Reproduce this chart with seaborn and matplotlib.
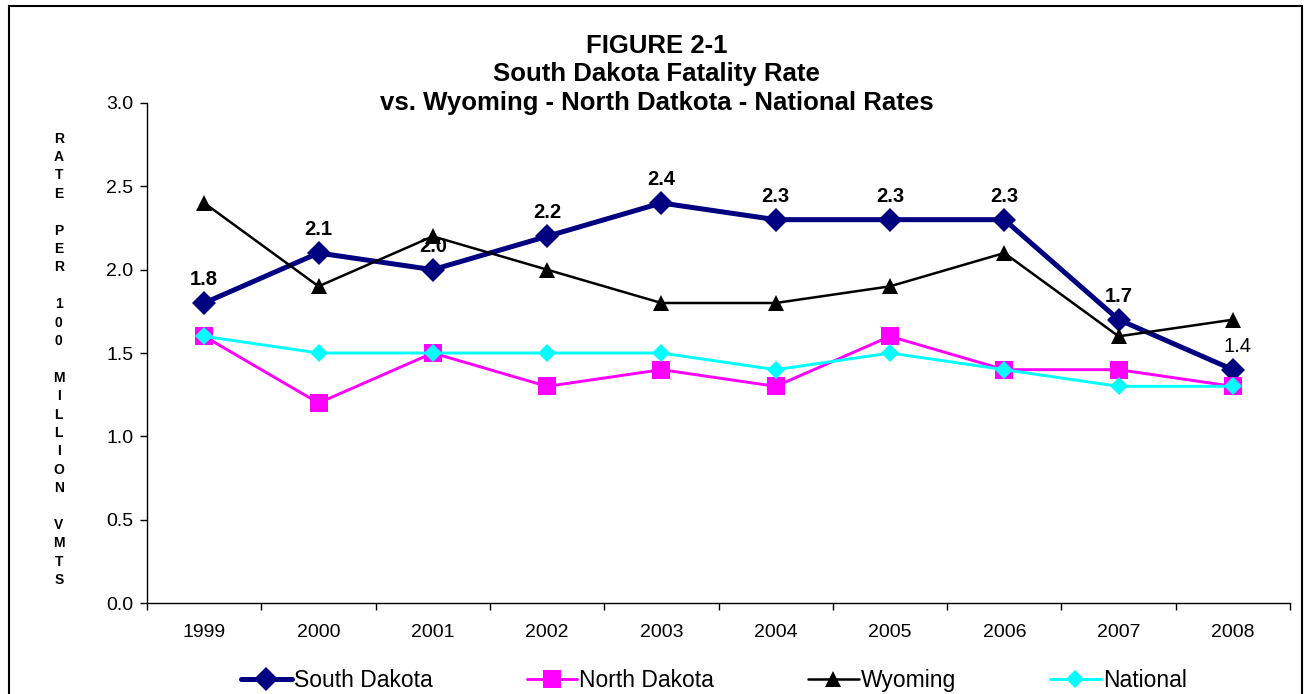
import pandas as pd
import matplotlib
matplotlib.use('Agg')
from matplotlib import pyplot as plt
from matplotlib.patches import Rectangle
from matplotlib.ticker import FixedLocator
import seaborn as sns

# --- 数据 ---
years = ['1999', '2000', '2001', '2002', '2003', '2004', '2005', '2006', '2007', '2008']
south_dakota = [1.8, 2.1, 2.0, 2.2, 2.4, 2.3, 2.3, 2.3, 1.7, 1.4]
north_dakota = [1.6, 1.2, 1.5, 1.3, 1.4, 1.3, 1.6, 1.4, 1.4, 1.3]
wyoming = [2.4, 1.9, 2.2, 2.0, 1.8, 1.8, 1.9, 2.1, 1.6, 1.7]
national = [1.6, 1.5, 1.5, 1.5, 1.5, 1.4, 1.5, 1.4, 1.3, 1.3]
y_ticks = [0.0, 0.5, 1.0, 1.5, 2.0, 2.5, 3.0]

sns.set_style('white')
plt.rcParams['font.family'] = ['Liberation Sans', 'DejaVu Sans']
plt.rcParams['text.color'] = 'black'
plt.rcParams['xtick.color'] = 'black'
plt.rcParams['ytick.color'] = 'black'

fig = plt.figure(figsize=(13.06, 6.94), dpi=100)
ax = fig.add_axes([0.1126, 0.1311, 0.8752, 0.7205])

x = list(range(len(years)))
series = [
    ('South Dakota', south_dakota, '#000080', 'D', 3.6, 12),
    ('North Dakota', north_dakota, '#FF00FF', 's', 2.1, 12.5),
    ('Wyoming', wyoming, '#000000', '^', 1.8, 11),
    ('National', national, '#00FFFF', 'D', 2.1, 9.5),
]
for name, vals, color, mk, lw, ms in series:
    df = pd.DataFrame({'x': x, 'y': vals})
    sns.lineplot(data=df, x='x', y='y', ax=ax, color=color, lw=lw,
                 marker=mk, markersize=ms, markeredgecolor=color,
                 markeredgewidth=0, label=name)

# 数据标签（最后一个不加粗）
for i, v in enumerate(south_dakota):
    last = i == len(south_dakota) - 1
    ax.annotate(f'{v:.1f}', (i, v), xytext=(3 if last else 0, 17), textcoords='offset points',
                ha='center', va='center', fontsize=14.5,
                fontweight='normal' if last else 'bold', color='black')

ax.set_xlim(-0.5, len(years) - 0.5)
ax.set_ylim(0, 3.0)
ax.set_yticks(y_ticks)
ax.set_yticklabels([f'{t:.1f}' for t in y_ticks])
ax.set_xticks(x)
ax.set_xticklabels(years)
ax.xaxis.set_minor_locator(FixedLocator([i - 0.5 for i in range(len(years) + 1)]))
ax.tick_params(axis='x', which='major', length=0, pad=15, labelsize=14)
ax.tick_params(axis='x', which='minor', length=5, width=1, direction='out', color='black')
ax.tick_params(axis='y', length=5, width=1, direction='out', color='black', labelsize=14, pad=5)
ax.xaxis.set_ticks_position('bottom')
ax.yaxis.set_ticks_position('left')
ax.set_xlabel('')
ax.set_ylabel('')
for side in ['top', 'right']:
    ax.spines[side].set_visible(False)
for side in ['left', 'bottom']:
    ax.spines[side].set_color('black')
    ax.spines[side].set_linewidth(1)

# 标题
fig.text(0.503, 0.934, 'FIGURE 2-1', ha='center', va='center', fontsize=18.5, fontweight='bold')
fig.text(0.503, 0.893, 'South Dakota Fatality Rate', ha='center', va='center', fontsize=18.5, fontweight='bold')
fig.text(0.503, 0.851, 'vs. Wyoming - North Datkota - National Rates', ha='center', va='center',
         fontsize=18.5, fontweight='bold')

# 纵轴标签（竖排字母）
ylab = 'RATE PER 100 MILLION VMTS'
fig.text(0.045, 0.482, '\n'.join(' ' if c == ' ' else c for c in ylab), ha='center', va='center',
         fontsize=10, fontweight='bold', linespacing=1.40)

# 图例
ax.legend(loc='center', bbox_to_anchor=(0.496, -0.155), ncol=4, frameon=False,
          fontsize=16.5, handlelength=2.2, handletextpad=0.1, columnspacing=4.1)

# 外框
fig.add_artist(Rectangle((0.0069, -0.02), 0.9900, 1.011, transform=fig.transFigure,
                         fill=False, edgecolor='black', lw=1.5))

plt.savefig('out.png', dpi=100)
plt.close()
